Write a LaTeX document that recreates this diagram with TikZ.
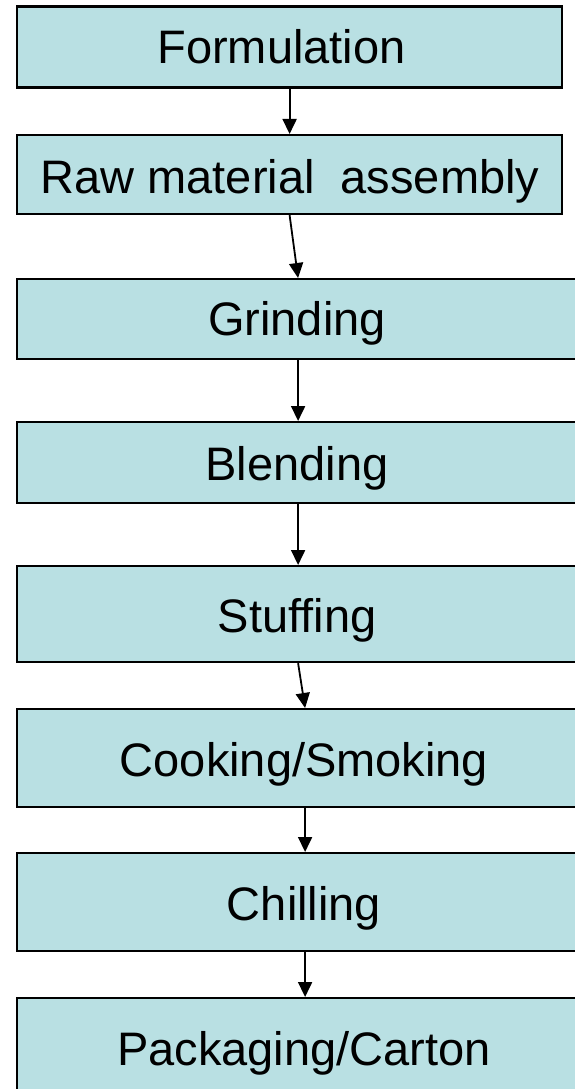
\documentclass[tikz,border=0pt]{standalone}
\usepackage{fontspec}
\setmainfont{Liberation Sans}
\usetikzlibrary{arrows.meta}
\definecolor{boxfill}{RGB}{185,224,227}
\tikzset{
  stepbox/.style={draw=black, fill=boxfill, line width=2.2pt, rectangle, inner sep=0pt},
  steplabel/.style={anchor=base, inner sep=0pt, font=\fontsize{47}{56}\selectfont},
  flow/.style={draw=black, line width=1.8pt, -{Triangle[width=14pt,length=15pt]}}
}
\begin{document}
\begin{tikzpicture}[x=1pt, y=-1pt]
  \useasboundingbox (0,0) rectangle (575,1089);
  \clip (0,0) rectangle (575,1089);

  % process boxes (left, top) .. (right, bottom)
  \node[stepbox, anchor=north west, minimum width=545pt, minimum height=81pt] (b1) at (16,5.5) {};
  \node[stepbox, anchor=north west, minimum width=545pt, minimum height=79pt] (b2) at (16,134) {};
  \node[stepbox, anchor=north west, minimum width=562pt, minimum height=80pt] (b3) at (16,278) {};
  \node[stepbox, anchor=north west, minimum width=562pt, minimum height=81pt] (b4) at (16,421) {};
  \node[stepbox, anchor=north west, minimum width=562pt, minimum height=96pt] (b5) at (16,565) {};
  \node[stepbox, anchor=north west, minimum width=576pt, minimum height=98pt] (b6) at (16,708) {};
  \node[stepbox, anchor=north west, minimum width=576pt, minimum height=98pt] (b7) at (16,852) {};
  \node[stepbox, anchor=north west, minimum width=576pt, minimum height=120pt] (b8) at (16,997) {};

  % step names
  \node[steplabel] (t1) at (281.5,63.3) {Formulation};
  \node[steplabel] (t2) at (290,193) {Raw material~ assembly};
  \node[steplabel] (t3) at (297,335) {Grinding};
  \node[steplabel] (t4) at (297,480.7) {Blending};
  \node[steplabel] (t5) at (297,632.7) {Stuffing};
  \node[steplabel] (t6) at (304,776) {Cooking/Smoking};
  \node[steplabel] (t7) at (304,920.7) {Chilling};
  \node[steplabel] (t8) at (304,1065) {Packaging/Carton};

  % flow between steps
  \draw[flow] (b1.south) -- (b2.north);
  \draw[flow] (b2.south) -- (b3.north);
  \draw[flow] (b3.south) -- (b4.north);
  \draw[flow] (b4.south) -- (b5.north);
  \draw[flow] (b5.south) -- (b6.north);
  \draw[flow] (b6.south) -- (b7.north);
  \draw[flow] (b7.south) -- (b8.north);
\end{tikzpicture}
\end{document}
